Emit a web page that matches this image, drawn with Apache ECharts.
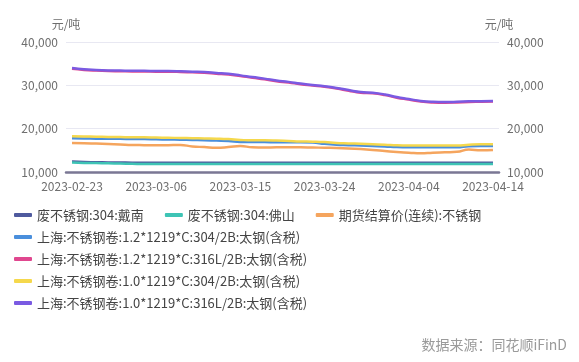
<!DOCTYPE html>
<html><head><meta charset="utf-8">
<script src="https://cdn.jsdelivr.net/npm/echarts@6/dist/echarts.min.js"></script>
<style>html,body{margin:0;padding:0;background:#fff}#c{width:579px;height:362px}</style>
</head><body><div id="c"></div>
<script>
const dates = ['2023-02-23','2023-02-24','2023-02-27','2023-02-28','2023-03-01','2023-03-02','2023-03-03','2023-03-06','2023-03-07','2023-03-08','2023-03-09','2023-03-10','2023-03-13','2023-03-14','2023-03-15','2023-03-16','2023-03-17','2023-03-20','2023-03-21','2023-03-22','2023-03-23','2023-03-24','2023-03-27','2023-03-28','2023-03-29','2023-03-30','2023-03-31','2023-04-03','2023-04-04','2023-04-06','2023-04-07','2023-04-10','2023-04-11','2023-04-12','2023-04-13','2023-04-14'];
const seriesNames = ['废不锈钢:304:戴南','废不锈钢:304:佛山','期货结算价(连续):不锈钢','上海:不锈钢卷:1.2*1219*C:304/2B:太钢(含税)','上海:不锈钢卷:1.2*1219*C:316L/2B:太钢(含税)','上海:不锈钢卷:1.0*1219*C:304/2B:太钢(含税)','上海:不锈钢卷:1.0*1219*C:316L/2B:太钢(含税)'];
const scrapDainan = [12400,12300,12250,12200,12180,12150,12150,12150,12150,12150,12150,12150,12150,12150,12150,12150,12150,12150,12150,12150,12150,12150,12150,12150,12150,12150,12150,12150,12150,12150,12150,12150,12150,12150,12150,12150];
const scrapFoshan = [12200,12100,12050,12000,11950,11900,11850,11850,11850,11850,11850,11850,11850,11850,11850,11850,11850,11850,11850,11850,11850,11850,11850,11850,11850,11850,11850,11850,11850,11850,11850,11850,11850,11850,11850,11850];
const futures = [16700,16650,16550,16450,16350,16250,16200,16150,16200,16250,15900,15750,15600,15750,16000,15700,15650,15700,15700,15700,15650,15600,15550,15450,15300,15100,14850,14600,14450,14300,14450,14550,14650,15200,15000,15100];
const coil12_304 = [17800,17750,17700,17650,17650,17600,17600,17550,17500,17450,17400,17350,17250,17150,16950,16900,16900,16850,16850,16850,16800,16500,16300,16200,16100,16000,15900,15750,15700,15700,15700,15700,15700,15950,16000,16000];
const coil12_316L = [33800,33550,33400,33300,33250,33200,33200,33150,33150,33100,33000,32900,32700,32500,32150,31750,31400,30950,30650,30250,29950,29650,29250,28750,28300,28150,27750,27150,26700,26250,26050,26000,26050,26150,26200,26250];
const coil10_304 = [18250,18200,18150,18100,18050,18000,18000,17950,17900,17850,17800,17750,17700,17600,17400,17300,17300,17250,17150,17050,17000,16900,16700,16600,16500,16400,16300,16150,16100,16100,16100,16100,16100,16300,16400,16400];
const coil10_316L = [34000,33700,33550,33450,33400,33350,33350,33300,33300,33250,33150,33050,32850,32650,32300,31900,31550,31100,30800,30400,30100,29800,29400,28900,28450,28300,27900,27300,26850,26400,26200,26150,26200,26300,26350,26400];
const yTicks = [10000, 20000, 30000, 40000];
const unitName = '元/吨';
const sourceText = '数据来源：同花顺iFinD';

const colors = ['#4f5a9e','#3ec4b5','#f5a55e','#4a8fdc','#e0478f','#f5d84c','#7a5ae2'];
const allData = [scrapDainan, scrapFoshan, futures, coil12_304, coil12_316L, coil10_304, coil10_316L];
const fontFam = '"Noto Sans CJK SC","Noto Sans",sans-serif';
const fmt = v => v.toLocaleString('en-US');

const chart = echarts.init(document.getElementById('c'), null, {renderer:'canvas'});
const yAxisBase = (pos, split) => ({
  type:'value', position:pos, min:yTicks[0], max:yTicks[yTicks.length-1], interval:yTicks[1]-yTicks[0],
  name:unitName, nameLocation:'end', nameGap:12,
  nameTextStyle:{color:'#6e6e6e', fontSize:12, fontFamily:fontFam, align:'center'},
  axisLine:{show:false}, axisTick:{show:false},
  axisLabel:{color:'#6e6e6e', fontSize:12, fontFamily:fontFam, formatter:fmt, margin:8},
  splitLine:{show:split, lineStyle:{color:'#e8e8f2', width:1}}
});
chart.setOption({
  animation:false,
  color:colors,
  grid:{left:66, right:80, top:42, bottom:190, containLabel:false},
  xAxis:{type:'category', data:dates, boundaryGap:true,
    axisLine:{show:true, lineStyle:{color:'#7a7794', width:2.5}},
    axisTick:{show:false},
    axisLabel:{interval:6, color:'#6e6e6e', fontSize:12, fontFamily:fontFam, margin:8}},
  yAxis:[yAxisBase('left', true), yAxisBase('right', false)],
  legend:{left:14, right:10, top:208, padding:0, itemGap:8, itemWidth:18, itemHeight:4, icon:'roundRect',
    textStyle:{color:'#444', fontSize:13, fontFamily:fontFam, lineHeight:14, padding:[0,13,0,0]},
    data:seriesNames},
  graphic:[{type:'text', right:12, top:338, style:{text:sourceText, fill:'#9a9a9a', font:'14px '+fontFam}}],
  series: seriesNames.map((n,i)=>({
    name:n, type:'line', yAxisIndex:0, data:allData[i], smooth:true, showSymbol:false, symbol:'none',
    lineStyle:{width:2.5, color:colors[i]}, itemStyle:{color:colors[i]}
  }))
});
</script></body></html>
